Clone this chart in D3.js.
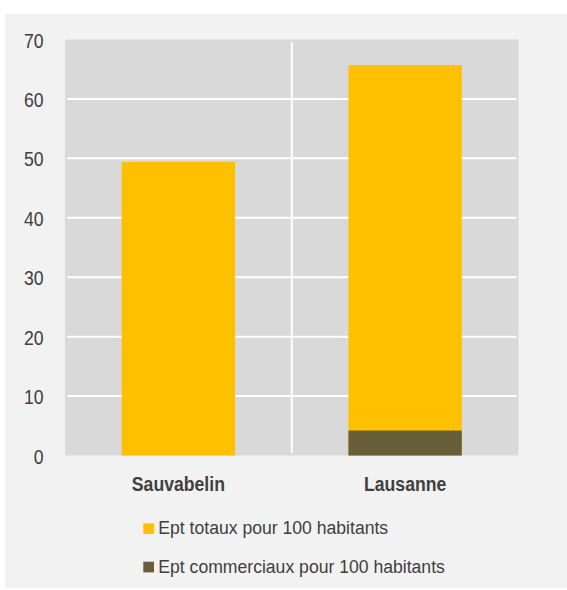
<!DOCTYPE html>
<html>
<head>
<meta charset="utf-8">
<script src="https://cdn.jsdelivr.net/npm/d3@7"></script>
<style>
  html, body { margin: 0; padding: 0; background: #ffffff; }
  svg { display: block; }
</style>
</head>
<body>
<svg id="chart" width="567" height="590"></svg>
<script>
const categories = ["Sauvabelin", "Lausanne"];
const totalEpt = [49.4, 65.7];
const commercialEpt = [0, 4.2];
const yTickValues = [0, 10, 20, 30, 40, 50, 60, 70];
const seriesNames = ["Ept totaux pour 100 habitants", "Ept commerciaux pour 100 habitants"];
const seriesColors = ["#FFC000", "#675E3A"];

const narrow = "'Liberation Sans Narrow', 'Arial Narrow', 'Liberation Sans', Arial, sans-serif";
const regular = "'Liberation Sans', Arial, sans-serif";
const textColor = "#404040";
const condense = "scale(0.84,1)";

const svg = d3.select("#chart");

// outer background
svg.append("rect").attr("x", 5).attr("y", 14).attr("width", 562).attr("height", 574).attr("fill", "#F2F2F2");

const plot = { left: 65, right: 518.5, top: 39.5, bottom: 455.5 };

const x = d3.scaleBand().domain(categories).range([plot.left, plot.right]).paddingInner(0).paddingOuter(0);
const y = d3.scaleLinear().domain([0, 70]).range([plot.bottom, plot.top]);

// plot area
svg.append("rect")
  .attr("x", plot.left).attr("y", y(70))
  .attr("width", plot.right - plot.left).attr("height", plot.bottom - y(70))
  .attr("fill", "#D9D9D9");

// horizontal gridlines
svg.append("g").selectAll("line")
  .data(yTickValues.filter(v => v > 0 && v < 70))
  .join("line")
  .attr("x1", plot.left + 2).attr("x2", plot.right - 2)
  .attr("y1", d => y(d)).attr("y2", d => y(d))
  .attr("stroke", "#FFFFFF").attr("stroke-width", 2);

// vertical category divider
svg.append("line")
  .attr("x1", x(categories[1])).attr("x2", x(categories[1]))
  .attr("y1", y(70) + 2.5).attr("y2", plot.bottom - 2.5)
  .attr("stroke", "#FFFFFF").attr("stroke-width", 2);

const barW = x.bandwidth() * 0.5;
const barOff = x.bandwidth() * 0.25;

// total bars
svg.append("g").selectAll("rect")
  .data(categories.map((c, i) => ({ c, v: totalEpt[i] })))
  .join("rect")
  .attr("x", d => x(d.c) + barOff).attr("width", barW)
  .attr("y", d => y(d.v)).attr("height", d => y(0) - y(d.v))
  .attr("fill", seriesColors[0]);

// commercial bars (overlaid)
svg.append("g").selectAll("rect")
  .data(categories.map((c, i) => ({ c, v: commercialEpt[i] })).filter(d => d.v > 0))
  .join("rect")
  .attr("x", d => x(d.c) + barOff).attr("width", barW)
  .attr("y", d => y(d.v)).attr("height", d => y(0) - y(d.v))
  .attr("fill", seriesColors[1]);

// y axis labels
const yAxis = svg.append("g")
  .attr("transform", `translate(${43.5},0)`)
  .call(d3.axisLeft(y).tickValues(yTickValues).tickSize(0).tickPadding(0).tickFormat(d3.format("d")));
yAxis.select(".domain").remove();
yAxis.selectAll("text")
  .attr("font-family", narrow).attr("font-size", 21).attr("fill", textColor)
  .attr("x", 0).attr("dy", "0.36em").attr("transform", condense);

// x axis labels
const xAxis = svg.append("g")
  .attr("transform", `translate(0,${plot.bottom})`)
  .call(d3.axisBottom(x).tickSize(0).tickPadding(0));
xAxis.select(".domain").remove();
xAxis.selectAll("text")
  .attr("font-family", narrow).attr("font-size", 21).attr("font-weight", "bold")
  .attr("fill", textColor).attr("dy", 0).attr("y", 491 - plot.bottom)
  .attr("transform", condense);

// legend
const legend = svg.append("g").selectAll("g")
  .data(seriesNames)
  .join("g")
  .attr("transform", (d, i) => `translate(143.3,${523.3 + i * 38.4})`);
legend.append("rect").attr("width", 10.7).attr("height", 10.7).attr("fill", (d, i) => seriesColors[i]);
legend.append("text")
  .attr("x", 15).attr("y", 11)
  .attr("font-family", regular).attr("font-size", 17.6).attr("fill", textColor)
  .text(d => d);
</script>
</body>
</html>
